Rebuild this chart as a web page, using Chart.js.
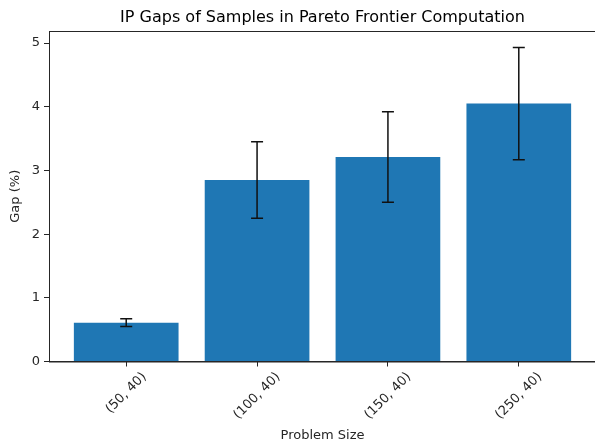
<!DOCTYPE html>
<html>
<head>
<meta charset="utf-8">
<script src="https://cdn.jsdelivr.net/npm/chart.js@4.4.1/dist/chart.umd.min.js"></script>
<style>
  html, body { margin: 0; padding: 0; background: #fff; overflow: hidden; }
  #wrap { width: 600px; height: 443px; }
</style>
</head>
<body>
<div id="wrap"><canvas id="c" width="600" height="443"></canvas></div>
<script>
const categories = ["(50, 40)", "(100, 40)", "(150, 40)", "(250, 40)"];
const gapMeans = [0.61, 2.85, 3.21, 4.05];
const gapErrors = [0.06, 0.60, 0.71, 0.88];
const yTicks = [0, 1, 2, 3, 4, 5];

const FONT = "'DejaVu Sans', sans-serif";
const TICK_PX = 13;
const INK = '#262626';

const errorBarPlugin = {
  id: 'errorBars',
  afterDatasetsDraw(chart) {
    const ctx = chart.ctx;
    const xs = chart.scales.x, ys = chart.scales.y;
    ctx.save();
    ctx.strokeStyle = '#111';
    ctx.lineWidth = 1.5;
    gapMeans.forEach((m, i) => {
      const x = xs.getPixelForValue(i);
      const yTop = ys.getPixelForValue(m + gapErrors[i]);
      const yBot = ys.getPixelForValue(m - gapErrors[i]);
      const cap = 6;
      ctx.beginPath();
      ctx.moveTo(x, yTop); ctx.lineTo(x, yBot);
      ctx.moveTo(x - cap, yTop); ctx.lineTo(x + cap, yTop);
      ctx.moveTo(x - cap, yBot); ctx.lineTo(x + cap, yBot);
      ctx.stroke();
    });
    ctx.restore();
  }
};

const xLabelPlugin = {
  id: 'xLabels',
  afterDraw(chart) {
    const ctx = chart.ctx;
    const xs = chart.scales.x;
    ctx.save();
    ctx.font = TICK_PX + 'px ' + FONT;
    ctx.fillStyle = INK;
    ctx.textAlign = 'center';
    ctx.textBaseline = 'middle';
    const s = Math.SQRT1_2;
    const fh = TICK_PX * 0.95;
    categories.forEach((lab, i) => {
      const x = xs.getPixelForValue(i);
      const w = ctx.measureText(lab).width;
      const h = (w + fh) * s;
      const cy = xs.top + 9 + h / 2;
      ctx.save();
      ctx.translate(x, cy);
      ctx.rotate(-Math.PI / 4);
      ctx.fillText(lab, 0, 0);
      ctx.restore();
    });
    ctx.restore();
  }
};

new Chart(document.getElementById('c'), {
  type: 'bar',
  data: {
    datasets: [{
      data: gapMeans.map((v, i) => ({ x: i, y: v })),
      backgroundColor: '#1f77b4',
      borderWidth: 0,
      barPercentage: 0.8,
      categoryPercentage: 1.0
    }]
  },
  options: {
    responsive: false,
    animation: false,
    layout: { padding: { left: 0, right: 4, top: 8, bottom: 0 } },
    plugins: {
      legend: { display: false },
      tooltip: { enabled: false },
      title: {
        display: true,
        fullSize: false,
        text: 'IP Gaps of Samples in Pareto Frontier Computation',
        color: '#000',
        font: { family: FONT, size: 16, weight: 'normal' },
        padding: { top: 0, bottom: 3.8 }
      }
    },
    scales: {
      x: {
        type: 'linear',
        min: -0.59,
        max: 3.59,
        offset: false,
        afterBuildTicks(scale) { scale.ticks = categories.map((c, i) => ({ value: i })); },
        afterFit(scale) { scale.height = 443 - 361.5; },
        ticks: {
          callback: () => '',
          font: { family: FONT, size: TICK_PX },
          maxRotation: 0, minRotation: 0
        },
        grid: { display: true, offset: false, drawOnChartArea: false, drawTicks: true, tickLength: 5, color: INK },
        border: { display: true, color: INK, width: 1 },
        title: {
          display: true,
          text: 'Problem Size',
          color: INK,
          font: { family: FONT, size: TICK_PX },
          padding: { top: 0, bottom: 0 }
        }
      },
      y: {
        min: 0,
        max: 5.19,
        afterBuildTicks(scale) { scale.ticks = yTicks.map(v => ({ value: v })); },
        afterFit(scale) { scale.width = 49; },
        ticks: {
          color: INK,
          font: { family: FONT, size: TICK_PX },
          padding: 4
        },
        grid: { display: true, drawOnChartArea: false, drawTicks: true, tickLength: 5, color: INK },
        border: { display: true, color: INK, width: 1 },
        title: {
          display: true,
          text: 'Gap (%)',
          color: INK,
          font: { family: FONT, size: TICK_PX },
          padding: { top: 8, bottom: 0 }
        }
      }
    }
  },
  plugins: [errorBarPlugin, xLabelPlugin, {
    id: 'frame',
    afterDraw(chart) {
      const a = chart.chartArea, ctx = chart.ctx;
      ctx.save();
      ctx.strokeStyle = INK;
      ctx.lineWidth = 1;
      ctx.strokeRect(a.left + 0.5, a.top + 0.5, a.right - a.left - 1, a.bottom - a.top);
      ctx.restore();
    }
  }]
});
</script>
</body>
</html>
